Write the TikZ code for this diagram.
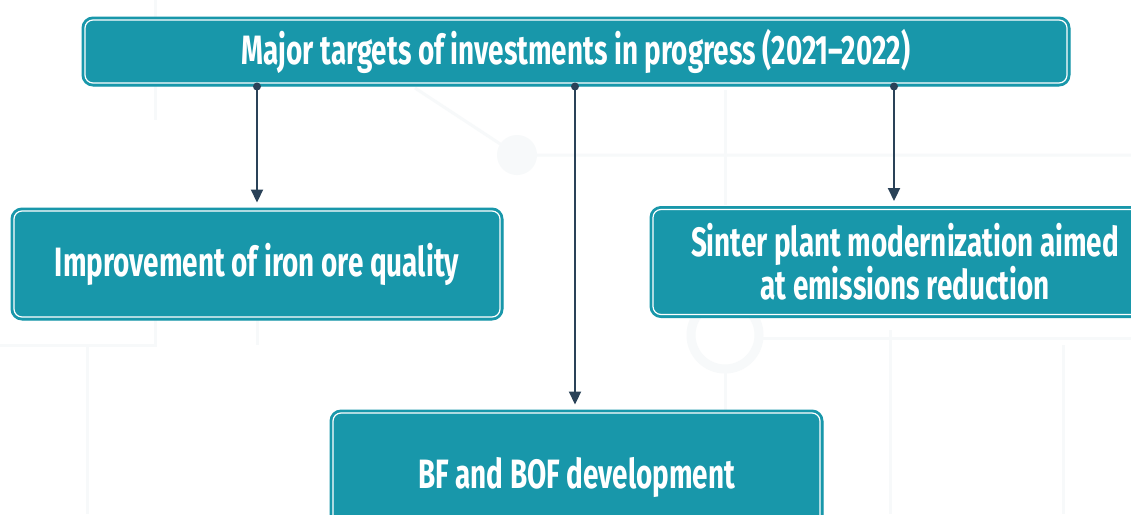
\documentclass[tikz,border=0pt]{standalone}
\usepackage{fontspec}
\setmainfont{Fira Sans}[FakeStretch=0.68]
\usetikzlibrary{arrows.meta,calc}
\definecolor{teal}{HTML}{1897AA}
\definecolor{navy}{HTML}{2A4258}
\definecolor{faint}{HTML}{F7F9FA}
\begin{document}
\begin{tikzpicture}[x=1pt,y=-1pt,
  box/.style={rectangle, rounded corners=11pt, fill=teal, draw=teal, line width=1pt,
    text=white, font=\fontsize{41}{38}\selectfont\bfseries, align=center, inner sep=0pt},
  link/.style={draw=navy, line width=2.2pt, -{Triangle[length=13pt,width=12pt]}, shorten >=5pt},
  bg/.style={draw=faint, line width=3pt}]
\useasboundingbox (0,0) rectangle (1131,514);
\clip (0,0) rectangle (1131,514);
\fill[white] (0,0) rectangle (1131,514);

% faint background network
\draw[bg] (155,0) -- (155,120);
\draw[bg] (415,88) -- (517,155) -- (1131,155);
\fill[faint] (517,155) circle (20);
\draw[bg] (725,90) -- (725,205);
\draw[bg] (0,345) -- (155,345) -- (155,300);
\draw[bg] (87,345) -- (87,514);
\draw[bg] (257,300) -- (257,345);
\draw[faint, line width=9pt] (725,335) circle (34);
\draw[bg] (760,338) -- (1131,338);
\draw[bg] (890,330) -- (890,514);
\draw[bg] (1063,345) -- (1063,514);
\draw[bg] (725,370) -- (725,410);

% boxes
\node[box, minimum width=988pt, minimum height=69pt] (top) at (576,51.5)
  {Major targets of investments in progress (2021–2022)};
\node[box, minimum width=492pt, minimum height=112pt] (iron) at (257,264)
  {Improvement of iron ore quality};
\node[box, minimum width=510pt, minimum height=111pt] (sinter) at (905,262)
  {Sinter plant modernization aimed\\at emissions reduction};
\node[box, minimum width=493pt, minimum height=134pt] (bof) at (576.5,477)
  {BF and BOF development};

% inner white outline of each box
\foreach \n in {top,iron,sinter,bof}
  \draw[white, line width=1.2pt, rounded corners=8pt]
    ($(\n.north west)+(3.5,3.5)$) rectangle ($(\n.south east)+(-3.5,-3.5)$);

% connectors
\coordinate (lx) at (257,0);
\coordinate (mx) at (575,0);
\coordinate (rx) at (894,0);
\foreach \c/\t in {lx/iron,mx/bof,rx/sinter}{
  \fill[navy] (top.south -| \c) circle (4);
  \draw[link] (top.south -| \c) -- (\t.north -| \c);
}
\end{tikzpicture}
\end{document}
